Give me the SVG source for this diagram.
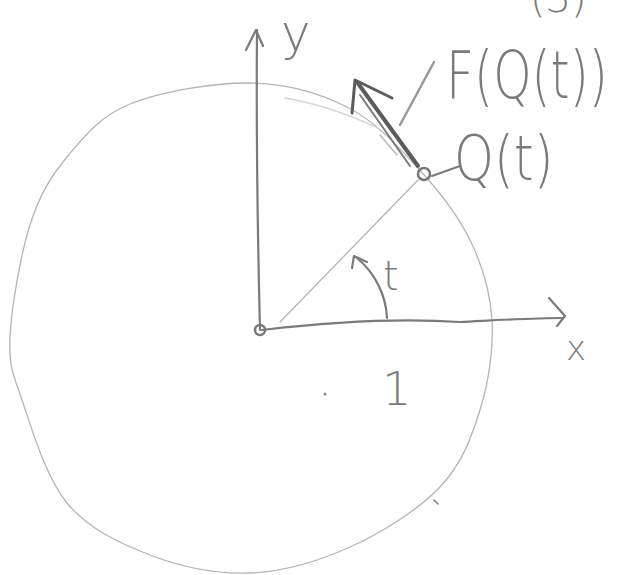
<svg xmlns="http://www.w3.org/2000/svg" width="624" height="575" viewBox="0 0 624 575">
<style>
.faint{fill:none;stroke:#b4b4b4;stroke-width:1.3;stroke-linecap:round}
.pen{fill:none;stroke:#7a7a7a;stroke-width:2.2;stroke-linecap:round;stroke-linejoin:round}
.dark{fill:none;stroke:#5c5c5c;stroke-width:4;stroke-linecap:round;stroke-linejoin:round}
.lbl{font-family:"DejaVu Sans","Liberation Sans",sans-serif;fill:#7a7a7a;font-weight:300}
</style>
<rect width="624" height="575" fill="#ffffff"/>
<g id="circle">
<path class="faint" d="M10,337 C11.3,307.8 20.5,255 30,225 C39.5,195 50.3,177.2 67,157 C83.7,136.8 99.5,116.3 130,104 C160.5,91.7 213.8,82.5 250,83 C286.2,83.5 319.2,93 347,107 C374.8,121 396.5,144.8 417,167 C437.5,189.2 457.5,214.5 470,240 C482.5,265.5 490.3,291.7 492,320 C493.7,348.3 488.7,382.2 480,410 C471.3,437.8 461.7,464.2 440,487 C418.3,509.8 381.7,532.7 350,547 C318.3,561.3 283.3,571.7 250,573 C216.7,574.3 180.5,566.7 150,555 C119.5,543.3 88.3,528.8 67,503 C45.7,477.2 31.5,427.7 22,400 C12.5,372.3 8.7,366.2 10,337 Z"/>
<path class="faint" d="M285,98 C320,104 350,115 378,128" style="stroke:#d4d4d4"/>
</g>
<g id="connectors">
<path class="pen" d="M260,330 C258,250 256,150 257,30"/>
<path class="pen" d="M246,50 L256,30 L263,46"/>
<path class="pen" d="M262,330 C330,322 400,318 460,322 C500,320 530,318 563,318"/>
<path class="pen" d="M549,298 L565,316 L557,326"/>
<path class="faint" d="M280,322 L418,180"/>
<path class="pen" d="M387,318 C386,295 375,273 357,258"/>
<path class="pen" d="M352,268 L354,256 L367,262"/>
<path class="pen" d="M432,176 L460,166"/>
<path class="faint" d="M400,125 L434,62" style="stroke:#999;stroke-width:2.5"/>
<path class="dark" d="M418,166 L357,82"/>
<path class="pen" d="M410,166 L360,95" style="stroke-width:2"/>
<path class="dark" d="M352,113 L355,80 L392,98" style="stroke-width:3"/>
<path class="faint" d="M380,135 L397,155"/>
</g>
<g id="origin">
<circle cx="260" cy="330" r="5" fill="none" stroke="#777" stroke-width="2.5"/>
</g>
<g id="Q">
<circle cx="424" cy="174" r="6" fill="none" stroke="#777" stroke-width="2.5"/>
</g>
<g id="labels">
<text class="lbl" x="281" y="50" font-size="50">y</text>
<text class="lbl" x="566" y="360" font-size="34">x</text>
<text class="lbl" x="383" y="290" font-size="40">t</text>
<text class="lbl" x="382" y="405" font-size="46">1</text>
<text class="lbl" font-size="66" transform="translate(446,98) scale(0.74,1)">F(Q(t))</text>
<text class="lbl" font-size="62" transform="translate(454,180) scale(0.82,1)">Q(t)</text>
<text class="lbl" x="530" y="12" font-size="40">(3)</text>
</g>
<circle cx="325" cy="394" r="1.5" fill="#888"/>
<path class="pen" d="M434,500 L438,504" style="stroke-width:1.5"/>
</svg>
